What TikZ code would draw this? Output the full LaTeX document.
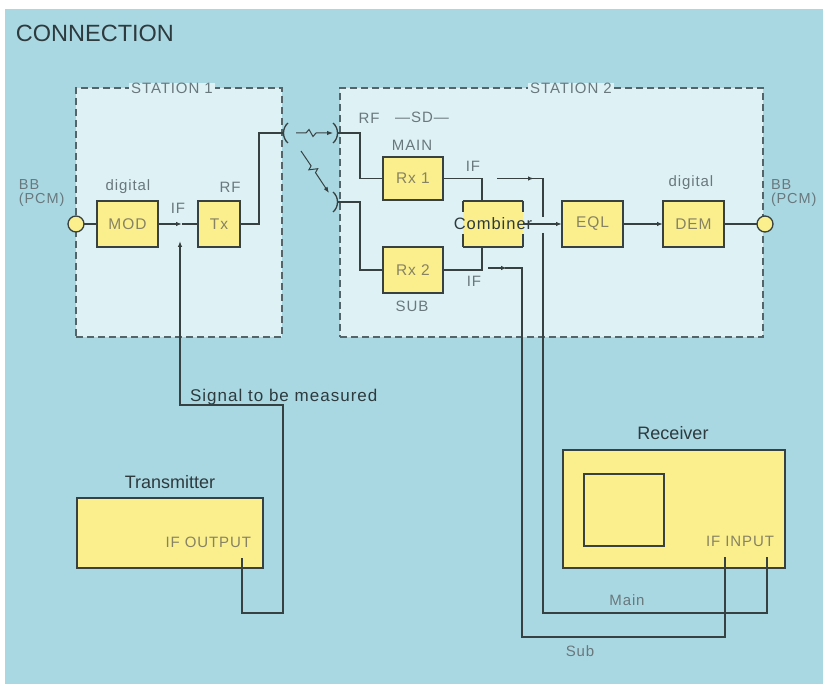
\documentclass[tikz,border=0pt]{standalone}
\usepackage{fontspec}
\setmainfont{Liberation Sans}
\newfontfamily\spaced[LetterSpace=6]{Liberation Sans}
\usetikzlibrary{arrows.meta,calc}
\definecolor{bgblue}{RGB}{170,216,226}
\definecolor{stfill}{RGB}{222,241,245}
\definecolor{stline}{RGB}{85,100,105}
\definecolor{yel}{RGB}{250,239,140}
\definecolor{linec}{RGB}{55,65,65}
\definecolor{darktxt}{RGB}{45,58,62}
\definecolor{graytxt}{RGB}{105,120,125}
\definecolor{boxtxt}{RGB}{135,130,100}
\newcommand\fsz[1]{\fontsize{#1}{#1}\selectfont}
\begin{document}
\begin{tikzpicture}[x=1pt,y=-1pt,
  every node/.style={inner sep=0pt, outer sep=0pt},
  blk/.style={draw=linec, fill=yel, line width=1.3pt, font=\spaced\fsz{15.5}, text=boxtxt},
  wire/.style={draw=linec, line width=1.3pt},
  thinwire/.style={draw=linec, line width=1pt},
  arr/.style={-{Latex[length=6pt,width=4.5pt]}},
  gl/.style={font=\spaced\fsz{15}, text=graytxt},
  dl/.style={text=darktxt},
  stbox/.style={draw=stline, dash pattern=on 7pt off 4pt, fill=stfill, line width=1.2pt}
]
\useasboundingbox (0,0) rectangle (823,687);
\fill[white] (0,0) rectangle (823,687);
\fill[bgblue] (5,9) rectangle (823,684);

% stations
\node[stbox, minimum width=206pt, minimum height=249pt] (st1) at (179,212.5) {};
\node[stbox, minimum width=423pt, minimum height=249pt] (st2) at (551.5,212.5) {};
\node[gl, fill=stfill, inner xsep=2pt] (st1lab) at (172,88) {STATION 1};
\node[gl, fill=stfill, inner xsep=2pt] (st2lab) at (571,88) {STATION 2};

\node[dl, font=\fsz{23.5}, anchor=west] (title) at (16,33) {CONNECTION};

% blocks
\node[blk, minimum width=61pt, minimum height=46pt] (mod) at (127.5,224) {MOD};
\node[blk, minimum width=42pt, minimum height=46pt] (tx) at (219,224) {Tx};
\node[blk, minimum width=60pt, minimum height=43pt] (rx1) at (413,178.5) {Rx 1};
\node[blk, minimum width=60pt, minimum height=46pt] (rx2) at (413,270) {Rx 2};
\node[fill=yel, minimum width=60pt, minimum height=46pt] (comb) at (493,224) {};
\node[blk, minimum width=61pt, minimum height=46pt] (eql) at (592.5,224) {EQL};
\node[blk, minimum width=61pt, minimum height=46pt] (dem) at (693.5,224) {DEM};
\node[circle, draw=linec, fill=yel, line width=1.3pt, minimum size=16pt] (bbl) at (76,224) {};
\node[circle, draw=linec, fill=yel, line width=1.3pt, minimum size=16pt] (bbr) at (765,224) {};

% combiner outline with gaps
\draw[wire] (comb.north west) -- (comb.north east);
\draw[wire] (comb.south west) -- (comb.south east);
\draw[wire] (comb.north west) -- ++(0,11);
\draw[wire] (comb.south west) -- ++(0,-13);
\draw[wire] (comb.north east) -- ++(0,11);
\draw[wire] (comb.south east) -- ++(0,-13);
\node[dl, font=\spaced\fsz{16.5}] (combtxt) at (493,224) {Combiner};

% measuring instruments
\node[draw=linec, fill=yel, line width=1.3pt, minimum width=186pt, minimum height=70pt] (trans) at (170,533) {};
\node[draw=linec, fill=yel, line width=1.3pt, minimum width=222pt, minimum height=118pt] (recv) at (674,509) {};
\node[draw=linec, fill=yel, line width=1.3pt, minimum width=80pt, minimum height=72pt] (screen) at (624,510) {};
\node[dl, font=\fsz{18}] (translab) at (170,482) {Transmitter};
\node[dl, font=\fsz{18}] (recvlab) at (673,433) {Receiver};
\node[font=\spaced\fsz{15}, text=boxtxt, anchor=east] (ifout) at (251,542) {IF OUTPUT};
\node[font=\spaced\fsz{15}, text=boxtxt, anchor=east] (ifin) at (774,541) {IF INPUT};

% labels
\node[gl, anchor=west, align=left, font=\spaced\fsz{14.5}] (bbll) at (19,193) {BB\\[0pt](PCM)};
\node[gl, anchor=west, align=left, font=\spaced\fsz{14.5}] (bbrl) at (771,193) {BB\\[0pt](PCM)};
\node[gl] (dig1) at (128,187) {digital};
\node[gl] (dig2) at (691,183) {digital};
\node[gl] (if1) at (178,208) {IF};
\node[gl] (rf1) at (230,187) {RF};
\node[gl] (rf2) at (369,118) {RF};
\node[gl] (sd) at (422,117) {\textemdash SD\textemdash};
\node[gl] (main) at (412,145) {MAIN};
\node[gl] (sub) at (412,306) {SUB};
\node[gl] (if2) at (473,166) {IF};
\node[gl] (if3) at (474,281) {IF};
\node[dl, font=\spaced\fsz{17}, anchor=west] (sig) at (190,397) {Signal to be measured};
\node[gl] (mainlab) at (627,600) {Main};
\node[gl] (sublab) at (580,651) {Sub};

% antennas
\coordinate (ant1) at (284,133);
\coordinate (ant2) at (337,133);
\coordinate (ant3) at (337,202);
\draw[wire] ($(ant1)+(4,-10)$) .. controls ($(ant1)+(-2,-5)$) and ($(ant1)+(-2,5)$) .. ($(ant1)+(4,10)$);
\draw[wire] ($(ant2)+(-4,-10)$) .. controls ($(ant2)+(2,-5)$) and ($(ant2)+(2,5)$) .. ($(ant2)+(-4,10)$);
\draw[wire] ($(ant3)+(-4,-10)$) .. controls ($(ant3)+(2,-5)$) and ($(ant3)+(2,5)$) .. ($(ant3)+(-4,10)$);
\draw[thinwire, arr] (296,133) -- (306,133) -- (309,129.5) -- (313,136.5) -- (316,133) -- (333,133);
\draw[thinwire, arr] (301,151) -- (311.1,165.9) -- (308.9,169.8) -- (317.7,168.7) -- (315.5,172.6) -- (329,193);

% station 1 wiring
\coordinate (ifm) at (182,224);
\draw[wire] (bbl) -- (mod.west);
\draw[wire, arr] (mod.east) -- (ifm);
\draw[wire] (ifm) -- (tx.west);
\draw[wire] (tx.east) -- ++(19,0) |- (ant1);

% station 2 wiring
\draw[wire] (ant2) -- ++(23,0) |- (rx1.west);
\draw[wire] (ant3) -- ++(23,0) |- (rx2.west);
\draw[wire] (rx1.east) -| ([xshift=-11pt]comb.north);
\draw[wire] (rx2.east) -| ([xshift=-11pt]comb.south);
\draw[wire, arr] (comb.east) -- (eql.west);
\draw[wire, arr] (eql.east) -- (dem.west);
\draw[wire] (dem.east) -- (bbr);

% measurement connections
\coordinate (mainin) at (767,557);
\coordinate (subin) at (725,557);
\coordinate (ifoutp) at (242,558);
\draw[wire, arr] (497,178.5) -- (534,178.5);
\draw[wire] (532,178.5) -- (543,178.5) -- (543,217);
\draw[wire] (543,233) -- (543,613) -- (767,613) -- (mainin);
\draw[wire, arr] (488,268) -- (507,268);
\draw[wire] (505,268) -- (522,268) -- (522,637) -- (725,637) -- (subin);
\draw[wire, arr] (ifoutp) -- (242,613) -- (283,613) -- (283,405) -- (180,405) -- (180,241);
\end{tikzpicture}
\end{document}
